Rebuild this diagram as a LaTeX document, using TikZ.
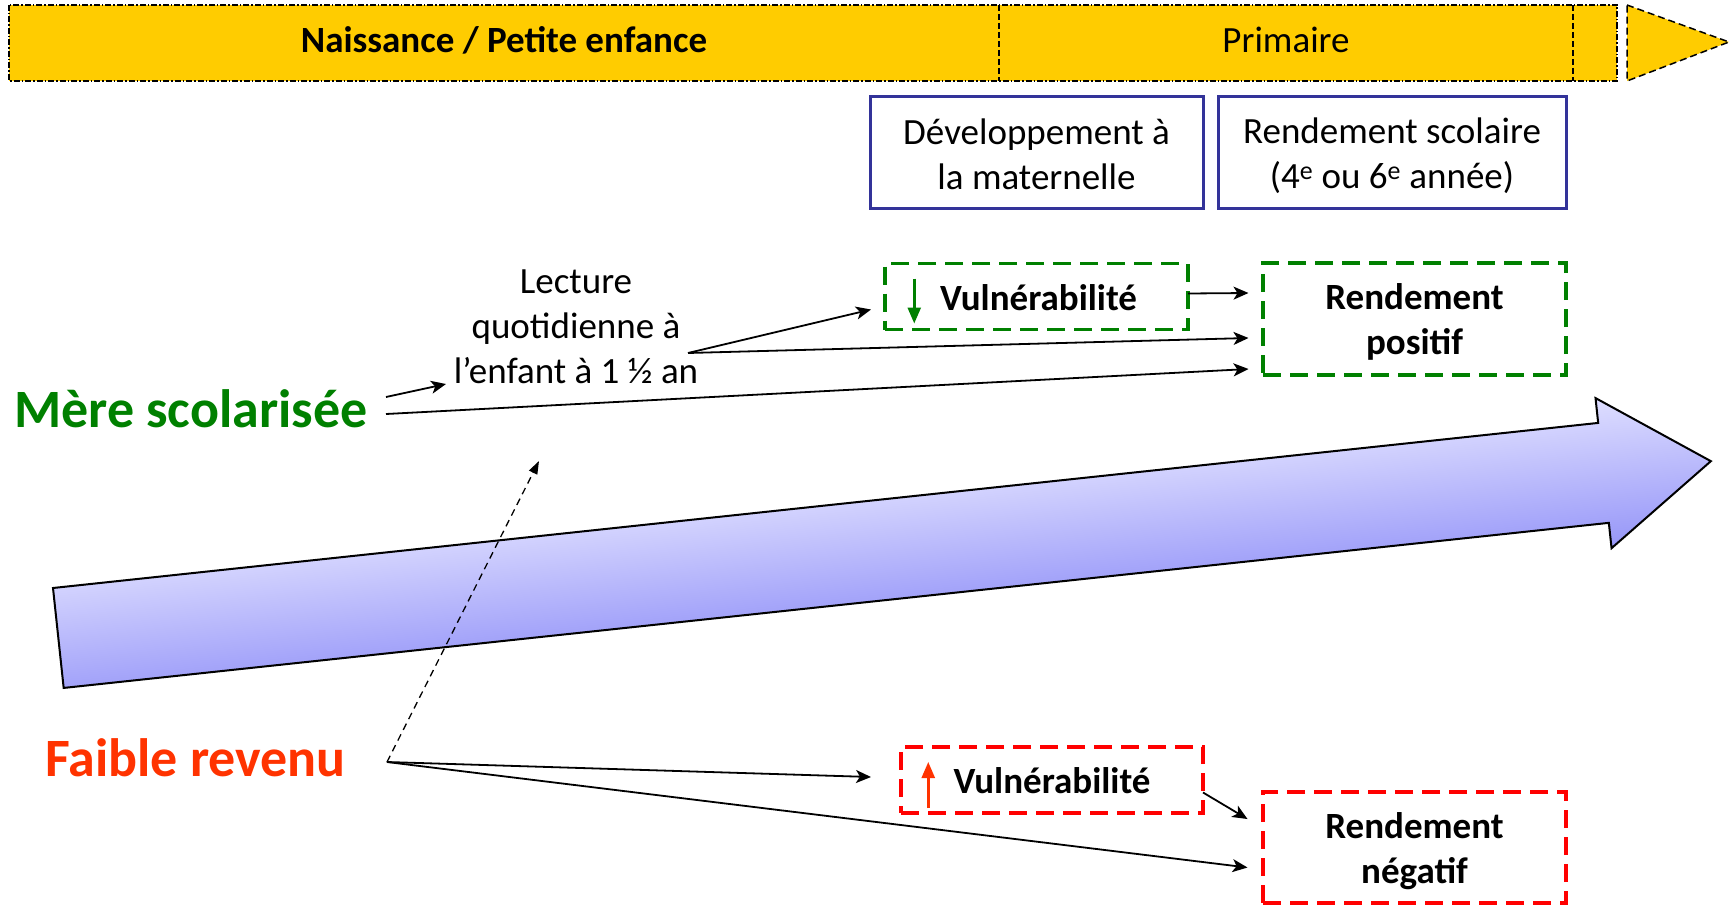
\documentclass[tikz,border=0pt]{standalone}
\usepackage{fontspec}
\setmainfont{Carlito}
\usetikzlibrary{arrows.meta,calc}
\definecolor{barY}{RGB}{255,204,0}
\definecolor{dgreen}{RGB}{0,128,0}
\definecolor{oured}{RGB}{255,51,0}
\definecolor{bred}{RGB}{255,0,0}
\definecolor{navy}{RGB}{51,51,153}
\definecolor{arrLight}{RGB}{222,222,255}
\definecolor{arrDark}{RGB}{150,150,248}
\begin{document}
\begin{tikzpicture}[x=1pt,y=-1pt,
  txt/.style={font=\fontsize{37}{45}\selectfont, align=center, inner sep=0pt},
  btxt/.style={txt, font=\fontsize{37}{45}\selectfont\bfseries},
  big/.style={font=\fontsize{54}{60}\selectfont\bfseries, inner sep=0pt},
  bluebox/.style={draw=navy, line width=3pt, inner sep=0pt},
  gbox/.style={draw=dgreen, line width=3.5pt, dash pattern=on 18pt off 9pt, inner sep=0pt},
  rbox/.style={draw=bred, line width=3.5pt, dash pattern=on 18pt off 9pt, inner sep=0pt},
  arr/.style={line width=1.8pt, -{Stealth[length=15pt,width=13pt,inset=4pt]}},
  uparr/.style={line width=2.5pt, -{Triangle[length=16pt,width=13pt]}},
  barline/.style={line width=1.5pt, dash pattern=on 6pt off 2pt on 1.5pt off 2pt},
]
\useasboundingbox (0,0) rectangle (1731,907);

% big shaded arrow
\begin{scope}[transform canvas={rotate around={6.1:(53,588)}}]
\draw[top color=arrLight, bottom color=arrDark, draw=black, line width=2pt, line join=miter]
  (53,588) -- (1607,588) -- (1607,563) -- (1715,638) -- (1607,714) -- (1607,688.5) -- (53,688.5) -- cycle;
\end{scope}

% top bar
\draw[fill=barY, barline] (9,5) rectangle (1617,81);
\draw[line width=1.5pt, dash pattern=on 6pt off 3pt] (999,5) -- (999,81);
\draw[line width=1.5pt, dash pattern=on 6pt off 3pt] (1573,5) -- (1573,81);
\draw[fill=barY, line width=1.5pt, dash pattern=on 7pt off 4pt] (1627,5) -- (1729,42) -- (1627,81) -- cycle;
\node[btxt] (naiss) at (504,40) {Naissance / Petite enfance};
\node[txt] (prim) at (1286,40) {Primaire};

% header boxes
\node[bluebox, minimum width=333pt, minimum height=112pt] (dev) at (1036.5,152.5) {};
\node[txt] (devT) at ($(dev.center)+(0,2)$) {Développement à\\la maternelle};
\node[bluebox, minimum width=348pt, minimum height=112pt] (rsc) at (1392,152.5) {};
\node[txt] (rscT) at ($(rsc.center)+(0,3)$) {Rendement scolaire\\(4\textsuperscript{e} ou 6\textsuperscript{e} année)};

% green boxes
\node[gbox, minimum width=303pt, minimum height=66pt] (vg) at (1036.5,296.5) {};
\node[btxt] (vgT) at ($(vg.center)+(2,1)$) {Vulnérabilité};
\node[gbox, minimum width=303pt, minimum height=112pt] (rp) at (1414.5,319) {};
\node[btxt] (rpT) at ($(rp.center)+(0,3)$) {Rendement\\positif};
\draw[dgreen, uparr] ($(vg.west)+(31,-18)$) -- ($(vg.west)+(31,27)$);

% red boxes
\node[rbox, minimum width=302pt, minimum height=66pt] (vr) at (1052,780) {};
\node[btxt] (vrT) at ($(vr.center)+(0,1)$) {Vulnérabilité};
\node[rbox, minimum width=303pt, minimum height=111pt] (rn) at (1414.5,847.5) {};
\node[btxt] (rnT) at ($(rn.center)+(0,4)$) {Rendement\\négatif};
\draw[oured, uparr] ($(vr.west)+(29,28)$) -- ($(vr.west)+(29,-18)$);

% left labels
\node[big, text=dgreen, anchor=base west] (mere) at (14,427) {Mère scolarisée};
\node[big, text=oured, anchor=base west] (faible) at (45,776) {Faible revenu};
\node[txt] (lect) at (576,327) {Lecture\\quotidienne à\\l’enfant à 1 ½ an};

\coordinate (dashend) at (539,461);

% connectors
\draw[arr] ($(mere.base west)+(372,-30)$) -- ($(lect.center)+(-130,57)$);
\draw[arr] ($(lect.center)+(112,26)$) -- ($(vg.center)+(-165.5,13)$);
\draw[arr] ($(lect.center)+(112,26)$) -- ($(rp.center)+(-166,19)$);
\draw[arr] ($(mere.base west)+(372,-13)$) -- ($(rp.center)+(-166,50)$);
\draw[arr] ($(vg.center)+(151.5,-3)$) -- ($(rp.center)+(-166,-26)$);

\draw[line width=1.3pt, dash pattern=on 7pt off 5pt, -{Triangle[length=13pt,width=9pt]}] ($(faible.base west)+(342,-14)$) -- (dashend);
\draw[arr] ($(faible.base west)+(342,-14)$) -- ($(vr.center)+(-181,-3)$);
\draw[arr] ($(faible.base west)+(342,-14)$) -- ($(rn.center)+(-167,20)$);
\draw[arr] ($(vr.center)+(151,12.5)$) -- ($(rn.center)+(-167,-28.5)$);
\end{tikzpicture}
\end{document}
